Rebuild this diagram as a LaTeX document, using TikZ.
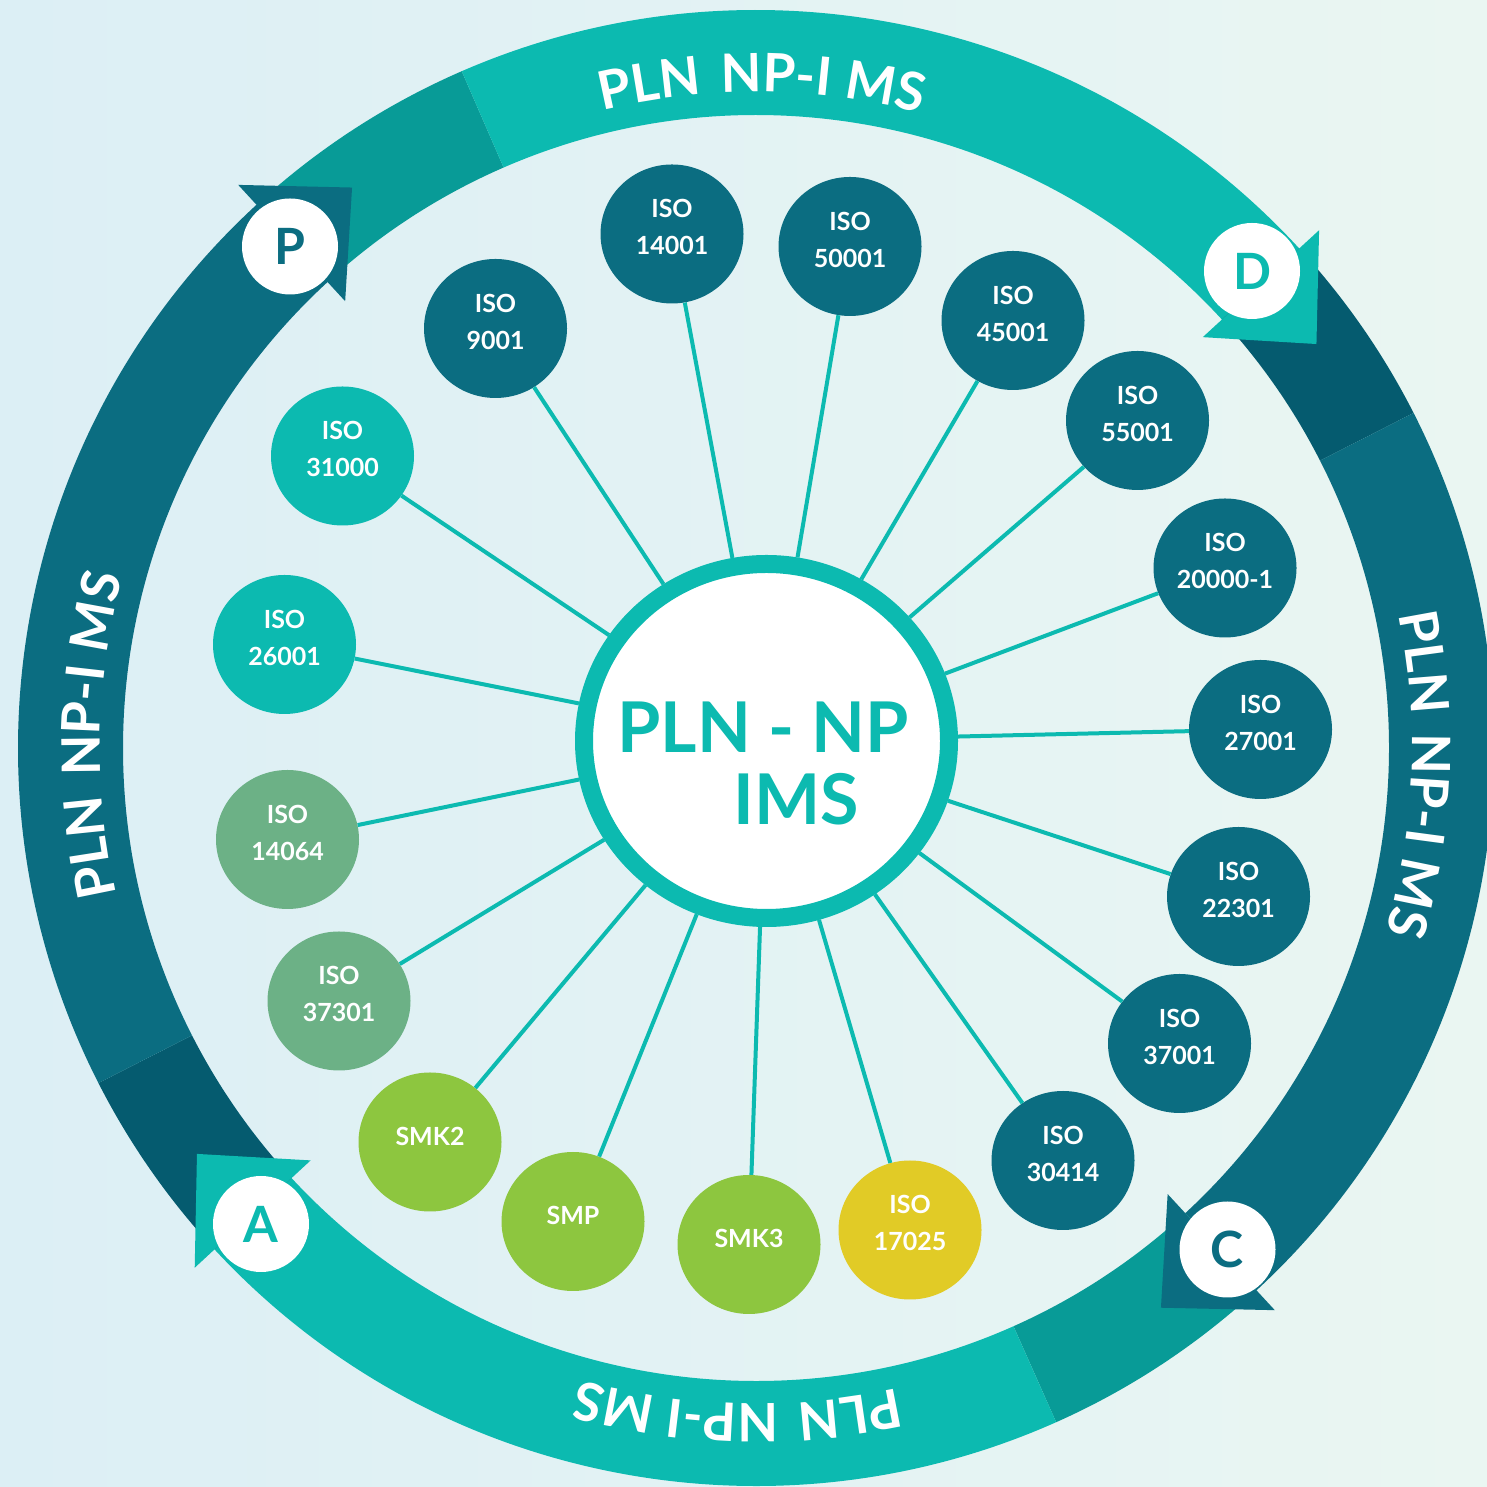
\documentclass[tikz,border=0pt]{standalone}
\usepackage{fontspec}
\setmainfont{Lato}
\usetikzlibrary{shapes.geometric,decorations.text,calc}
\definecolor{teal1}{HTML}{0CBAB0}
\definecolor{teal2}{HTML}{089B97}
\definecolor{navy1}{HTML}{0B6D81}
\definecolor{navy2}{HTML}{055B6F}
\definecolor{sage}{HTML}{6CB186}
\definecolor{lime}{HTML}{8DC63F}
\definecolor{yell}{HTML}{E1CB26}
\definecolor{bgL}{HTML}{DCEFF5}
\definecolor{bgR}{HTML}{EAF6F2}
\newcommand\ringfnt{\fontsize{53}{53}\selectfont\bfseries}
\newcommand\ringseg[3]{\fill[#3] (#1:633) arc[start angle=#1, end angle=#2, radius=633] -- (#2:738) arc[start angle=#2, end angle=#1, radius=738] -- cycle;}
\newcommand\arrowtri[2]{\fill[#2] (#1:607) -- (#1:765) -- ($(#1:686)+(#1-90:82)$) -- cycle;}
\newcommand\ringtext[1]{\path[decorate, decoration={text along path, text={|\ringfnt|PLN{\kern6pt} NP-I MS}, text align=center, text color=white}] (#1+22:656) arc[start angle=#1+22, end angle=#1-22, radius=656];}
\tikzset{
  sat/.style={ellipse, minimum width=143pt, minimum height=139pt, inner sep=0pt, fill=#1},
  sattxt/.style={text=white, font=\fontsize{25}{37}\selectfont\bfseries, align=center, inner sep=0pt},
  conn/.style={draw=teal1, line width=4pt},
  hub/.style={ellipse, draw=teal1, line width=18pt, fill=white, minimum width=365pt, minimum height=354pt, inner sep=0pt},
  hubtxt/.style={text=teal1, font=\fontsize{70}{70}\selectfont\bfseries, inner sep=0pt, anchor=base},
  letter/.style={circle, fill=white, minimum size=96pt, inner sep=0pt, font=\fontsize{50}{50}\selectfont\bfseries, text=#1}
}
\begin{document}
\begin{tikzpicture}[x=1pt,y=1pt]
\useasboundingbox (0,0) rectangle (1487,1487);
\fill[left color=bgL, right color=bgR] (0,0) rectangle (1487,1487);
% ring
\begin{scope}[shift={(756,739)}]
  \ringseg{132.6}{113.5}{teal2}
  \ringseg{113.5}{42.6}{teal1}
  \ringseg{42.6}{27}{navy2}
  \ringseg{27}{-47.3}{navy1}
  \ringseg{-47.3}{-66}{teal2}
  \ringseg{-66}{-137.2}{teal1}
  \ringseg{222.8}{207}{navy2}
  \ringseg{207}{132.6}{navy1}
  \arrowtri{132.6}{navy1}
  \arrowtri{42.6}{teal1}
  \arrowtri{-47.3}{navy1}
  \arrowtri{222.8}{teal1}
  \ringtext{89.5}
  \ringtext{-2.3}
  \ringtext{268.4}
  \ringtext{178.9}
\end{scope}
% cycle letters
\node[letter=navy1] (lp) at (290,1240.5) {P};
\node[letter=teal1] (ld) at (1252,1216) {D};
\node[letter=navy1] (lc) at (1227.5,237.5) {C};
\node[letter=teal1] (la) at (261,263) {A};
% hub
\node[hub] (hub) at (766.5,746) {};
\node[hubtxt] (hubt1) at (763,734) {PLN - NP};
\node[hubtxt] (hubt2) at (796,662) {IMS};
% satellites
\node[sat=navy1] (s1) at (672,1253) {};
\node[sat=navy1] (s2) at (850,1240.5) {};
\node[sat=navy1] (s3) at (495.5,1158.5) {};
\node[sat=navy1] (s4) at (1013,1166.5) {};
\node[sat=navy1] (s5) at (1137.5,1066.5) {};
\node[sat=teal1] (s6) at (342.5,1031) {};
\node[sat=navy1] (s7) at (1225,919) {};
\node[sat=teal1] (s8) at (284.5,842.5) {};
\node[sat=navy1] (s9) at (1260.5,757.5) {};
\node[sat=sage] (s10) at (287.5,647.5) {};
\node[sat=navy1] (s11) at (1238.5,590.5) {};
\node[sat=sage] (s12) at (339,486) {};
\node[sat=navy1] (s13) at (1179.5,443.5) {};
\node[sat=lime] (s14) at (430,345) {};
\node[sat=navy1] (s15) at (1063,326.5) {};
\node[sat=lime] (s16) at (573,265.5) {};
\node[sat=lime] (s17) at (749,242.5) {};
\node[sat=yell] (s18) at (910,257) {};
% connectors
\foreach \s in {s1,s2,s3,s4,s5,s6,s7,s8,s9,s10,s11,s12,s13,s14,s15,s16,s17,s18}
  \draw[conn] (hub) -- (\s);
% satellite labels
\node[sattxt] (t1) at ([yshift=7pt]s1.center) {ISO\\14001};
\node[sattxt] (t2) at ([yshift=7pt]s2.center) {ISO\\50001};
\node[sattxt] (t3) at ([yshift=7pt]s3.center) {ISO\\9001};
\node[sattxt] (t4) at ([yshift=7pt]s4.center) {ISO\\45001};
\node[sattxt] (t5) at ([yshift=7pt]s5.center) {ISO\\55001};
\node[sattxt] (t6) at ([yshift=7pt]s6.center) {ISO\\31000};
\node[sattxt] (t7) at ([yshift=7pt]s7.center) {ISO\\20000-1};
\node[sattxt] (t8) at ([yshift=7pt]s8.center) {ISO\\26001};
\node[sattxt] (t9) at ([yshift=7pt]s9.center) {ISO\\27001};
\node[sattxt] (t10) at ([yshift=7pt]s10.center) {ISO\\14064};
\node[sattxt] (t11) at ([yshift=7pt]s11.center) {ISO\\22301};
\node[sattxt] (t12) at ([yshift=7pt]s12.center) {ISO\\37301};
\node[sattxt] (t13) at ([yshift=7pt]s13.center) {ISO\\37001};
\node[sattxt] (t14) at ([yshift=6pt]s14.center) {SMK2};
\node[sattxt] (t15) at ([yshift=7pt]s15.center) {ISO\\30414};
\node[sattxt] (t16) at ([yshift=6pt]s16.center) {SMP};
\node[sattxt] (t17) at ([yshift=6pt]s17.center) {SMK3};
\node[sattxt] (t18) at ([yshift=7pt]s18.center) {ISO\\17025};
\end{tikzpicture}
\end{document}
